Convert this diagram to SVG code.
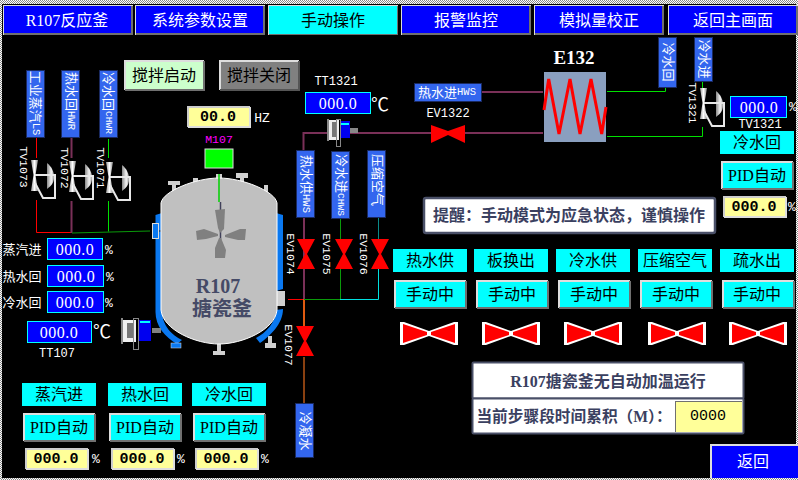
<svg xmlns="http://www.w3.org/2000/svg" width="798" height="480" viewBox="0 0 798 480">
<style>
text{font-family:"Liberation Serif","Noto Sans CJK SC",sans-serif;font-size:16px;dominant-baseline:central;text-anchor:middle;fill:#000}
.w{fill:#fff}
.v{fill:#fff;letter-spacing:.5px}
.s{font-size:13px;fill:#fff}
.tag{font-family:"Liberation Mono","Noto Sans CJK SC",monospace;font-size:11.5px;fill:#fff}
.lat{font-size:10.5px;font-family:"Liberation Mono",monospace}
.num{font-family:"Liberation Mono","Noto Sans CJK SC",monospace;font-size:15px;font-weight:700}
.pct{font-family:"Liberation Mono",monospace;font-size:13px;fill:#fff}
.bold{font-weight:700;fill:#3a4060}
.side{font-size:13px;fill:#fff}
.blue{fill:#0000ff;stroke:#00ffff;stroke-width:1;shape-rendering:crispEdges}
.cy{fill:#00ffff;shape-rendering:crispEdges}
.lab{fill:#3366ee;stroke:#1a2a60;stroke-width:1;shape-rendering:crispEdges}
.p{fill:none;stroke-width:1}
.mar{stroke:#7a3058;stroke-width:2}
.gr{stroke:#00e000}
.hl{fill:none;stroke:#fff;shape-rendering:crispEdges}
.sh{fill:none;stroke:#707070;shape-rendering:crispEdges}
</style>
<defs>
<pattern id="chk" width="2" height="2" patternUnits="userSpaceOnUse"><rect width="2" height="2" fill="#fff"/><rect width="1" height="1" fill="#888"/><rect x="1" y="1" width="1" height="1" fill="#888"/></pattern>
<linearGradient id="dome" x1="0" x2="1" y1="0" y2="0"><stop offset="0" stop-color="#888"/><stop offset="0.6" stop-color="#f4f4f4"/><stop offset="1" stop-color="#aaa"/></linearGradient>
<linearGradient id="body" x1="0" x2="1" y1="0" y2="0"><stop offset="0" stop-color="#999"/><stop offset="0.5" stop-color="#fff"/><stop offset="1" stop-color="#888"/></linearGradient>
<g id="act">
<polygon points="31,160 38,160 35.5,175 38,191 31,191 33.5,175" fill="url(#body)"/>
<path d="M47,163 C52,167 54,172 54,177 C54,183 51,186 47,189 Z" fill="url(#dome)"/>
<path d="M35,175 H55 V198 H43 L35,183" fill="none" stroke="#e8e8e8" stroke-width="2"/>
</g>
<polygon id="vv" points="0,0 18,0 10,15 18,30 0,30 8,15" fill="#ff0000"/>
<g id="hv">
<polygon points="0,0 4,0 29,9 54,0 58,0 58,23 54,23 29,14 4,23 0,23" fill="#fff"/>
<polygon points="3,2 27,10 27,13 3,21" fill="#ff0000"/>
<polygon points="55,2 31,10 31,13 55,21" fill="#ff0000"/>
</g>
<g id="btn72" shape-rendering="crispEdges">
<rect width="72" height="28" fill="#00ffff"/>
<path d="M0.5,28 V0.5 H72" class="hl" stroke-width="2" style="stroke:#ddd"/>
<path d="M71.5,1 V27.5 H1" class="sh" stroke-width="2"/>
</g>
<g id="yv" shape-rendering="crispEdges">
<rect width="63" height="21" fill="#ffff99"/>
<path d="M0.5,21 V0.5 H63" class="sh" style="stroke:#ccc" stroke-width="2"/>
<path d="M62.5,1 V20.5 H1" class="sh" style="stroke:#ddd" stroke-width="2"/>
</g>
<g id="nav" shape-rendering="crispEdges">
<rect width="130" height="30" fill="#0000ff"/>
<path d="M0.5,30 V0.5 H130" class="hl" stroke-width="1.5" style="stroke:#ddd"/>
<path d="M129,1 V29 H1" class="sh" stroke-width="2"/>
</g>
</defs>
<rect width="798" height="480" fill="url(#chk)"/>
<rect x="2" y="4" width="794" height="474" fill="#000"/>

<g id="connectors">
<path class="p" stroke="#ff0000" d="M36.5,137V158M36.5,200V232.5H72"/>
<path class="p mar" d="M71.5,137V158M71.5,201V233"/>
<path class="p gr" d="M108.5,139V158M108.5,201V231.5"/>
<path class="p" stroke="#0a9a0a" stroke-width="1.5" d="M72,233L150,231"/>
<path class="p mar" d="M303.5,150V133H330M350,133H543M482,92H543"/>
<path class="p mar" d="M304,218V299"/>
<path class="p" style="stroke-width:2" stroke="#e05a10" d="M304,299V326"/>
<path class="p" style="stroke-width:2" stroke="#8a4010" d="M304,357V403"/>
<path class="p" stroke="#0a9a0a" d="M340.5,219V239M340.5,269V299"/>
<path class="p" stroke="#0a8a8a" d="M378.5,218V239"/>
<path class="p" stroke="#00e0e0" d="M378.5,269V299.5H340"/>
<path class="p" stroke="#0a9a0a" d="M304,299.5H340"/>
<path class="p" stroke="#ff0000" d="M288,299.5H303"/>
<path class="p gr" d="M607,91.5H665.5V88M607,136.5H702.5V127M702.5,82V88"/>
</g>

<g id="nav-buttons">
<g id="nav1"><use href="#nav" x="3" y="5"/><text x="67" y="20" class="w">R107反应釜</text></g>
<g id="nav2"><use href="#nav" x="135" y="5"/><text x="200" y="20" class="w">系统参数设置</text></g>
<g id="nav3"><use href="#nav" x="268" y="5"/><rect x="269" y="6" width="128" height="28" fill="#00ffff"/><text x="333" y="20">手动操作</text></g>
<g id="nav4"><use href="#nav" x="401" y="5"/><text x="466" y="20" class="w">报警监控</text></g>
<g id="nav5"><use href="#nav" x="534" y="5"/><text x="599" y="20" class="w">模拟量校正</text></g>
<g id="nav6"><use href="#nav" x="668" y="5"/><text x="733" y="20" class="w">返回主画面</text></g>
</g>

<g id="stir-start" shape-rendering="crispEdges"><rect x="124" y="60" width="80" height="30" fill="#ccffcc"/><path d="M124.5,90V60.5H204" class="hl" style="stroke:#ddd" stroke-width="2"/><path d="M203.5,61V89.5H125" class="sh" stroke-width="2"/><text x="164" y="75">搅拌启动</text></g>
<g id="stir-stop" shape-rendering="crispEdges"><rect x="219" y="60" width="80" height="30" fill="#808080"/><path d="M219.5,90V60.5H299" class="hl" style="stroke:#ddd" stroke-width="2"/><path d="M298.5,61V89.5H220" class="sh" style="stroke:#555" stroke-width="2"/><text x="259" y="75">搅拌关闭</text></g>

<g id="hz"><use href="#yv" transform="translate(187,106)"/><text x="218" y="117" class="num">00.0</text><text x="262" y="118" class="tag" style="font-size:13px">HZ</text></g>
<g id="m107"><text x="219" y="139" style="font-size:11.5px;font-family:'Liberation Mono',monospace;fill:#ff00ff">M107</text><rect x="205" y="149" width="28" height="19" fill="#00ff00" stroke="#ddd" stroke-width="1"/></g>

<g id="labels-left">
<g id="lb-ls"><rect class="lab" x="26.5" y="70.5" width="18" height="67"/><text class="s" transform="translate(35.5,103) rotate(90)">工业蒸汽<tspan class="lat">LS</tspan></text></g>
<g id="lb-hwr"><rect class="lab" x="61.5" y="70.5" width="18" height="67"/><text class="s" transform="translate(71,101) rotate(90)">热水回<tspan class="lat">HWR</tspan></text></g>
<g id="lb-chwr"><rect class="lab" x="99.5" y="70.5" width="18" height="67"/><text class="s" transform="translate(108.5,103) rotate(90)">冷水回<tspan class="lat" style="font-size:9.5px">CHWR</tspan></text></g>
</g>
<text class="tag" transform="translate(23,167) rotate(90)">TV1073</text>
<text class="tag" transform="translate(64,168) rotate(90)">TV1072</text>
<text class="tag" transform="translate(100,168) rotate(90)">TV1071</text>
<g id="TV1073"><use href="#act"/></g>
<g id="TV1072"><use href="#act" x="38" y="1"/></g>
<g id="TV1071"><use href="#act" x="75" y="2"/></g>

<g id="R107">
<g fill="#d0d0d0">
<rect x="168" y="181" width="12" height="4"/><rect x="172" y="185" width="4" height="10"/>
<rect x="193" y="178" width="5" height="5"/>
<rect x="216" y="174" width="6" height="6"/>
<rect x="236" y="173" width="12" height="5"/><rect x="240" y="178" width="4" height="4"/>
<rect x="264" y="185" width="4" height="9"/>
<rect x="213" y="351" width="12" height="4"/><rect x="217" y="344" width="4" height="8"/>
<rect x="265" y="343" width="11" height="5"/><rect x="268" y="336" width="4" height="8"/>
</g>
<path d="M155.5,215 L162,213 V310 C162,326 172,335 182,340 L177,344 C165,337 155.5,326 155.5,312 Z" fill="#0a78f0"/>
<path d="M276,213 L283,215 V289 L276,291 Z" fill="#0a78f0"/>
<path d="M276,310 L283,309 C283,324 270,336 260,343 L256,338 C266,333 276,322 276,310 Z" fill="#0a78f0"/>
<rect x="171" y="343" width="10" height="5" fill="#0a78f0" stroke="#ddd" stroke-width="0.5"/>
<rect x="152.5" y="223.5" width="6" height="15" fill="#0a78f0" stroke="#ddd"/>
<path d="M159,231H163" stroke="#222"/>
<rect x="277" y="291" width="8" height="15" fill="#d0d0d0"/>
<path d="M161,203 C163,191 196,178 219,178 C242,178 275,191 277,203 L277,310 C275,330 242,344 219,344 C196,344 163,330 161,310 Z" fill="#c0c0c0" stroke="#fff" stroke-width="1"/>
<path d="M219,174V202" stroke="#00d000" stroke-width="1.5"/>
<path d="M220.5,202V240" stroke="#40405a" stroke-width="1.5"/>
<g fill="#808080">
<polygon points="215,210 225,209 224,229 220,233 218,228"/>
<polygon points="219,238 221,238 226,250 225,258 215,258 215,248"/>
<polygon points="196,231 204,229 218,234 218,236 206,239 197,240"/>
<polygon points="225,235 240,229 246,229 245,240 238,240 225,237"/>
</g>
<text x="218" y="286" style="font-size:20px;font-weight:700;fill:#454a66">R107</text>
<text x="222" y="309" style="font-size:20px;font-weight:700;fill:#454a66">搪瓷釜</text>
</g>

<g id="motor-bottom" shape-rendering="crispEdges">
<rect x="152" y="328" width="9" height="5" fill="#808080"/>
<rect x="122" y="320" width="14" height="22" fill="#f0f0f0"/><rect x="127" y="323" width="7" height="15" fill="#777"/><rect x="121" y="318" width="2" height="26" fill="#888"/>
<rect x="138" y="320" width="13" height="21" fill="#0000f0"/><rect x="140" y="321" width="10" height="2" fill="#00ffff"/>
<rect x="133.5" y="318.5" width="5" height="31" fill="none" stroke="#888"/>
</g>
<g id="motor-top" shape-rendering="crispEdges">
<rect x="350" y="128" width="8" height="5" fill="#888"/>
<rect x="328" y="120" width="11" height="20" fill="#eee"/><rect x="332" y="122" width="5" height="15" fill="#777"/><rect x="327" y="119" width="2" height="22" fill="#888"/>
<rect x="340" y="121" width="10" height="17" fill="#0000f0"/><rect x="340" y="123" width="9" height="2" fill="#00ffff"/>
<rect x="336.5" y="119.5" width="4" height="27" fill="none" stroke="#888"/>
</g>

<g id="left-values">
<text x="22" y="249" class="side">蒸汽进</text><rect class="blue" x="47.5" y="238.5" width="55" height="21"/><text x="75" y="249" class="v">000.0</text><text x="109" y="250" class="pct">%</text>
<text x="22" y="276" class="side">热水回</text><rect class="blue" x="47.5" y="265.5" width="56" height="21"/><text x="76" y="276" class="v">000.0</text><text x="110" y="277" class="pct">%</text>
<text x="22" y="302" class="side">冷水回</text><rect class="blue" x="47.5" y="291.5" width="56" height="21"/><text x="75" y="302" class="v">000.0</text><text x="109" y="303" class="pct">%</text>
<rect class="blue" x="27.5" y="321.5" width="64" height="21"/><text x="59" y="332" class="v">000.0</text>
<text x="102" y="332" class="w" style="font-size:18px">℃</text>
<text x="57" y="354" class="tag" style="font-size:12px">TT107</text>
</g>

<g id="tt1321"><text x="336" y="82" class="tag" style="font-size:12px">TT1321</text><rect class="blue" x="305.5" y="92.5" width="65" height="21"/><text x="338" y="103" class="v">000.0</text><text x="380" y="105" class="w" style="font-size:18px">℃</text></g>

<g id="labels-ev">
<g id="lb-hws"><rect class="lab" x="296.5" y="150.5" width="18" height="67"/><text class="s" transform="translate(306,184) rotate(90)">热水供<tspan class="lat">HWS</tspan></text></g>
<g id="lb-chws"><rect class="lab" x="331.5" y="151.5" width="18" height="67"/><text class="s" transform="translate(341,185) rotate(90)">冷水进<tspan class="lat" style="font-size:9.5px">CHWS</tspan></text></g>
<g id="lb-air"><rect class="lab" x="367.5" y="150.5" width="18" height="67"/><text class="s" transform="translate(377,180) rotate(90)">压缩空气</text></g>
<g id="lb-cond"><rect class="lab" x="295.5" y="403.5" width="18" height="54"/><text class="s" transform="translate(305,431) rotate(90)">冷凝水</text></g>
</g>
<g id="EV1074"><use href="#vv" x="297" y="239"/><text class="tag" transform="translate(290,254) rotate(90)">EV1074</text></g>
<g id="EV1075"><use href="#vv" x="335" y="239"/><text class="tag" transform="translate(326,254) rotate(90)">EV1075</text></g>
<g id="EV1076"><use href="#vv" x="371" y="239"/><text class="tag" transform="translate(363,254) rotate(90)">EV1076</text></g>
<g id="EV1077"><use href="#vv" x="296" y="326"/><text class="tag" transform="translate(288,345) rotate(90)">EV1077</text></g>

<g id="hws-in"><rect class="lab" x="414.5" y="83.5" width="67" height="18"/><text x="447" y="92" class="s">热水进<tspan class="lat">HWS</tspan></text></g>
<g id="EV1322"><text x="448" y="114" class="tag" style="font-size:12px">EV1322</text><polygon points="431,125 448,131 465,125 465,143 448,135 431,143" fill="#ff0000"/></g>

<g id="E132">
<text x="574" y="57" style="font-size:19px;font-weight:700;fill:#fff">E132</text>
<rect x="544" y="72" width="62" height="70" fill="#8a9fbf"/>
<polyline points="544,110 548.7,79 559,134 570,79 580,134 591,79 601.7,134 606,107" fill="none" stroke="#ff0000" stroke-width="3"/>
</g>
<g id="lb-cwr"><rect class="lab" x="658.5" y="37.5" width="18" height="50"/><text class="s" transform="translate(668,62) rotate(90)">冷水回</text></g>
<g id="lb-cws"><rect class="lab" x="694.5" y="37.5" width="18" height="44"/><text class="s" transform="translate(704,59) rotate(90)">冷水进</text></g>
<g id="TV1321"><use href="#act" transform="translate(669,-72)"/><text class="tag" transform="translate(692,103) rotate(90)">TV1321</text></g>

<g id="right-panel">
<rect class="blue" x="730.5" y="96.5" width="56" height="21"/><text x="759" y="107" class="v">000.0</text><text x="793" y="107" class="pct">%</text>
<text x="760" y="125" class="tag" style="font-size:12px">TV1321</text>
<rect class="cy" x="720" y="131" width="74" height="23"/><text x="757" y="142">冷水回</text>
<use href="#btn72" x="721" y="161"/><text x="757" y="175">PID自动</text>
<use href="#yv" transform="translate(723,196)"/><text x="754" y="207" class="num">000.0</text><text x="792" y="207" class="pct">%</text>
</g>

<g id="notice"><rect x="424" y="198" width="291" height="35" rx="2" fill="#fff" stroke="#4a5068" stroke-width="2.5"/><text x="569" y="215" class="bold">提醒：手动模式为应急状态，谨慎操作</text></g>

<g id="manual-1"><rect class="cy" x="393" y="249" width="74" height="23"/><text x="430" y="260">热水供</text><use href="#btn72" x="394" y="280"/><text x="430" y="294">手动中</text><use href="#hv" x="400" y="322"/></g>
<g id="manual-2"><rect class="cy" x="474" y="249" width="74" height="23"/><text x="511" y="260">板换出</text><use href="#btn72" x="476" y="280"/><text x="512" y="294">手动中</text><use href="#hv" x="482" y="322"/></g>
<g id="manual-3"><rect class="cy" x="556" y="249" width="74" height="23"/><text x="593" y="260">冷水供</text><use href="#btn72" x="558" y="280"/><text x="594" y="294">手动中</text><use href="#hv" x="564" y="322"/></g>
<g id="manual-4"><rect class="cy" x="638" y="249" width="74" height="23"/><text x="675" y="260">压缩空气</text><use href="#btn72" x="640" y="280"/><text x="676" y="294">手动中</text><use href="#hv" x="648" y="322"/></g>
<g id="manual-5"><rect class="cy" x="720" y="249" width="74" height="23"/><text x="757" y="260">疏水出</text><use href="#btn72" x="722" y="280"/><text x="757" y="294">手动中</text><use href="#hv" x="729" y="322"/></g>

<g id="status">
<rect x="472.5" y="362.5" width="271" height="36" rx="1" fill="#fff" stroke="#4a5068" stroke-width="2"/>
<rect x="472.5" y="398.5" width="271" height="35" rx="1" fill="#fff" stroke="#4a5068" stroke-width="2"/>
<text x="608" y="381" class="bold">R107搪瓷釜无自动加温运行</text>
<text x="574" y="416" class="bold" style="font-size:15.7px">当前步骤段时间累积（M）：</text>
<rect x="675" y="401" width="67" height="31" fill="#ffff99"/>
<path d="M675.5,432V401.5H742" class="sh" stroke-width="1.5"/>
<text x="708" y="416" style="font-family:'Liberation Mono',monospace;font-size:15px">0000</text>
</g>

<g id="return" shape-rendering="crispEdges"><rect x="710" y="444" width="88" height="34" fill="#0000ff"/><path d="M711,478V445H798" class="hl" style="stroke:#ddd" stroke-width="2"/><text x="753" y="461" class="w">返回</text></g>

<g id="pid-1"><rect class="cy" x="22" y="383" width="74" height="23"/><text x="59" y="394">蒸汽进</text><use href="#btn72" x="23" y="413"/><text x="59" y="427">PID自动</text><use href="#yv" transform="translate(25,448)"/><text x="56" y="459" class="num">000.0</text><text x="96" y="459" class="pct">%</text></g>
<g id="pid-2"><rect class="cy" x="108" y="383" width="74" height="23"/><text x="145" y="394">热水回</text><use href="#btn72" x="109" y="413"/><text x="145" y="427">PID自动</text><use href="#yv" transform="translate(111,448)"/><text x="142" y="459" class="num">000.0</text><text x="181" y="459" class="pct">%</text></g>
<g id="pid-3"><rect class="cy" x="192" y="383" width="74" height="23"/><text x="229" y="394">冷水回</text><use href="#btn72" x="193" y="413"/><text x="229" y="427">PID自动</text><use href="#yv" transform="translate(195,448)"/><text x="226" y="459" class="num">000.0</text><text x="265" y="459" class="pct">%</text></g>
</svg>
